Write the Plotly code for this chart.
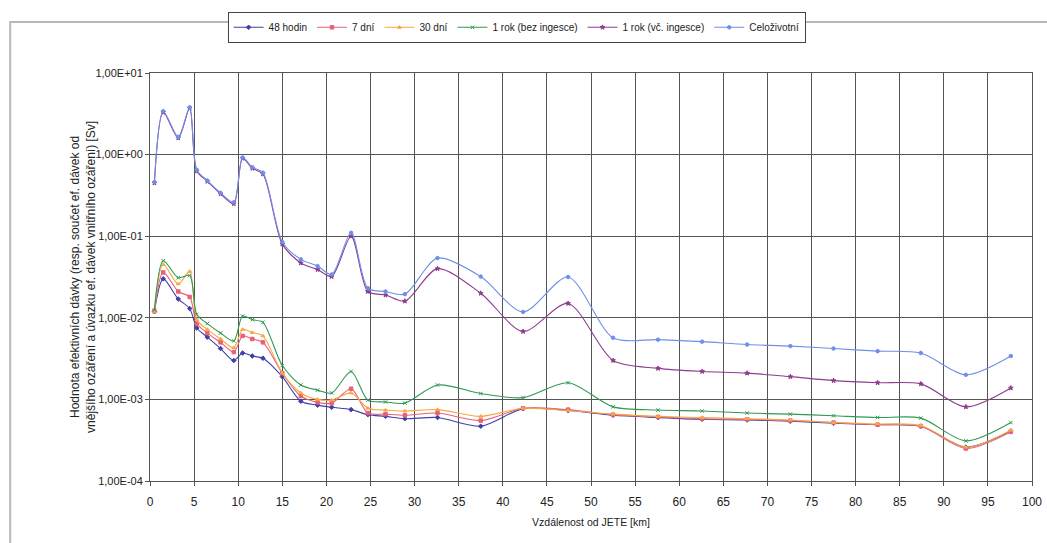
import plotly.graph_objects as go

# distance from the plant [km]
distance_km = [0.5, 1.5, 3.2, 4.5, 5.3, 6.5, 8.0, 9.5, 10.5, 11.6, 12.8, 15.0, 17.1, 19.0,
               20.6, 22.8, 24.7, 26.7, 28.9, 32.6, 37.5, 42.3, 47.4, 52.5, 57.6, 62.6,
               67.7, 72.6, 77.5, 82.5, 87.4, 92.5, 97.6]

# effective dose [Sv] for each integration period
dose_48h = [0.012, 0.030, 0.017, 0.013, 0.0075, 0.0058, 0.0042, 0.0030, 0.0037, 0.0034, 0.0032,
            0.0019, 0.00095, 0.00085, 0.00080, 0.00075, 0.00065, 0.00062, 0.00058, 0.00060,
            0.00047, 0.00077, 0.00073, 0.00064, 0.00060, 0.00057, 0.00056, 0.00054, 0.00051,
            0.00049, 0.00047, 0.00026, 0.00041]
dose_7d = [0.012, 0.036, 0.021, 0.018, 0.0085, 0.0065, 0.0050, 0.0038, 0.0060, 0.0055, 0.0050,
           0.0021, 0.0011, 0.00092, 0.00090, 0.00135, 0.00068, 0.00066, 0.00064, 0.00068,
           0.00055, 0.00078, 0.00075, 0.00065, 0.00061, 0.00058, 0.00057, 0.00055, 0.00052,
           0.00049, 0.00047, 0.00025, 0.00040]
dose_30d = [0.012, 0.045, 0.026, 0.037, 0.0095, 0.0072, 0.0055, 0.0043, 0.0072, 0.0066, 0.0060,
            0.0021, 0.0012, 0.00100, 0.00098, 0.0012, 0.00078, 0.00074, 0.00072, 0.00075,
            0.00062, 0.00078, 0.00073, 0.00066, 0.00062, 0.00060, 0.00058, 0.00056, 0.00052,
            0.00050, 0.00048, 0.00026, 0.00042]
dose_1y_ext = [0.0125, 0.050, 0.031, 0.033, 0.011, 0.0085, 0.0065, 0.0052, 0.0105, 0.0095, 0.0088,
               0.0026, 0.0015, 0.0013, 0.0012, 0.0022, 0.00098, 0.00093, 0.00090, 0.0015,
               0.00118, 0.00105, 0.0016, 0.00081, 0.00074, 0.00072, 0.00068, 0.00066, 0.00063,
               0.00060, 0.00059, 0.00031, 0.00052]
dose_1y_ing = [0.45, 3.3, 1.6, 3.7, 0.63, 0.47, 0.33, 0.25, 0.90, 0.68, 0.58, 0.080, 0.047, 0.039,
               0.032, 0.10, 0.021, 0.019, 0.016, 0.040, 0.020, 0.0068, 0.015, 0.0030, 0.0024,
               0.0022, 0.0021, 0.0019, 0.0017, 0.0016, 0.00155, 0.00081, 0.00138]
dose_life = [0.46, 3.4, 1.65, 3.8, 0.65, 0.48, 0.34, 0.26, 0.92, 0.70, 0.60, 0.085, 0.052, 0.043,
             0.034, 0.11, 0.023, 0.021, 0.0195, 0.054, 0.032, 0.0118, 0.0316, 0.0057, 0.0054,
             0.0051, 0.0047, 0.0045, 0.0042, 0.0039, 0.0037, 0.0020, 0.0034]

series_names = ["48 hodin", "7 dní", "30 dní", "1 rok (bez ingesce)", "1 rok (vč. ingesce)", "Celoživotní"]
series_values = [dose_48h, dose_7d, dose_30d, dose_1y_ext, dose_1y_ing, dose_life]
series_colors = ["#4040a8", "#e8607a", "#f5a845", "#2f9a50", "#8e3b8e", "#6f8fe8"]
series_symbols = ["diamond", "square", "triangle-up", "x-thin", "star", "circle"]

y_tickvals = [1e-4, 1e-3, 1e-2, 1e-1, 1e0, 1e1]
y_ticktext = ["1,00E-04", "1,00E-03", "1,00E-02", "1,00E-01", "1,00E+00", "1,00E+01"]

fig = go.Figure()
for name, vals, color, sym in zip(series_names, series_values, series_colors, series_symbols):
    fig.add_trace(go.Scatter(
        x=distance_km, y=vals, name=name, mode="lines+markers",
        line=dict(color=color, width=1.1, shape="spline", smoothing=0.8),
        marker=dict(color=color, size=3.5, symbol=sym, line=dict(color=color, width=1)),
    ))

font_family = "Liberation Sans, Arial, sans-serif"

fig.update_layout(
    width=1047, height=543,
    margin=dict(l=150, r=15, t=64, b=62),
    paper_bgcolor="white", plot_bgcolor="white",
    font=dict(family=font_family, size=11, color="#222"),
    showlegend=True,
    legend=dict(
        orientation="h", x=0.088, y=1.15, xanchor="left", yanchor="top",
        bordercolor="#444", borderwidth=1, bgcolor="white",
        font=dict(size=10), itemwidth=30, tracegroupgap=0,
    ),
    xaxis=dict(
        range=[0, 100], tickmode="linear", tick0=0, dtick=5,
        showgrid=True, gridcolor="#555", gridwidth=1,
        showline=True, linecolor="#555", linewidth=1, mirror=True,
        ticks="outside", ticklen=4, tickcolor="#555", ticklabelstandoff=6,
        ticklabeloverflow="allow",
        zeroline=False, tickfont=dict(size=12), automargin=False,
        title=dict(text="Vzdálenost od JETE [km]", font=dict(size=10.5), standoff=10),
    ),
    yaxis=dict(
        type="log", range=[-4, 1],
        tickvals=y_tickvals, ticktext=y_ticktext,
        showgrid=True, gridcolor="#555", gridwidth=1,
        showline=True, linecolor="#555", linewidth=1, mirror=True,
        ticks="outside", ticklen=4, tickcolor="#555",
        zeroline=False, tickfont=dict(size=11), automargin=False,
    ),
    annotations=[dict(
        text="Hodnota efektivních dávky (resp. součet ef. dávek od<br>"
             "vnějšího ozáření a úvazku ef. dávek vnitřního ozáření) [Sv]",
        xref="paper", yref="paper", x=-0.076, y=0.5, xanchor="center", yanchor="middle",
        textangle=-90, showarrow=False, font=dict(size=12, color="#222"),
    )],
    shapes=[dict(
        type="rect", xref="paper", yref="paper",
        x0=-0.1585, x1=1.05, y0=-0.25, y1=1.125,
        line=dict(color="#b8b8b8", width=2), fillcolor="rgba(0,0,0,0)", layer="below",
    )],
)

fig.write_html("out.html")
